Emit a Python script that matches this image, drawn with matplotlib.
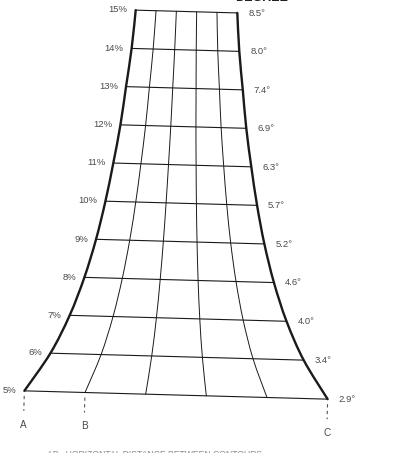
import numpy as np
import matplotlib
matplotlib.use("Agg")
import matplotlib.pyplot as plt
from matplotlib.transforms import Affine2D
from matplotlib.path import Path
from matplotlib.patches import PathPatch

# ---- data -------------------------------------------------------------
slope_pct = [5, 6, 7, 8, 9, 10, 11, 12, 13, 14, 15]
pct_labels = ["5%", "6%", "7%", "8%", "9%", "10%", "11%", "12%", "13%", "14%", "15%"]
deg_labels = ["2.9°", "3.4°", "4.0°", "4.6°", "5.2°", "5.7°",
              "6.3°", "6.9°", "7.4°", "8.0°", "8.5°"]
# horizontal run for one unit of rise (read as widths of the rows)
run_per_rise = [20.0, 16.7, 14.3, 12.5, 11.1, 10.0, 9.1, 8.3, 7.7, 7.1, 6.7]
point_labels = ["A", "B", "C"]
n_div = 5

# ---- layout / style ---------------------------------------------------
px_per_run = 15.17
row_gap = 38.36
tilt_deg = -1.57
origin = (176.0, 58.0)
line_col = "#1a1a1a"
text_col = "#4a4a4a"
font = "Liberation Sans"

fig = plt.figure(figsize=(4.0, 4.53), dpi=100)
ax = fig.add_axes([0, 0, 1, 1])
ax.set_xlim(0, 400)
ax.set_ylim(0, 453)
ax.axis("off")
tr = Affine2D().rotate_deg(tilt_deg).translate(*origin) + ax.transData


def smooth_path(xs, ys):
    """Bezier path through the given points (Catmull-Rom tangents)."""
    p = np.column_stack([xs, ys]).astype(float)
    verts = [p[0]]
    codes = [Path.MOVETO]
    n = len(p)
    for i in range(n - 1):
        p0 = p[i - 1] if i > 0 else p[i]
        p1, p2 = p[i], p[i + 1]
        p3 = p[i + 2] if i + 2 < n else p[i + 1]
        c1 = p1 + (p2 - p0) / 6.0
        c2 = p2 - (p3 - p1) / 6.0
        verts += [c1, c2, p2]
        codes += [Path.CURVE4] * 3
    return Path(verts, codes)


def draw_curve(xs, ys, lw):
    ax.add_patch(PathPatch(smooth_path(xs, ys), fill=False, edgecolor=line_col,
                           lw=lw, transform=tr, capstyle="round",
                           joinstyle="round"))


half = np.array(run_per_rise) * px_per_run / 2.0
v = (np.array(slope_pct) - slope_pct[0]) * row_gap

# horizontal rows
for i in range(len(slope_pct)):
    ax.plot([-half[i], half[i]], [v[i], v[i]], color=line_col, lw=0.8,
            transform=tr, solid_capstyle="butt")
# interior division lines
for k in range(1, n_div):
    u = -half + 2 * half * k / n_div
    draw_curve(u, v, 0.7)
# boundaries
draw_curve(-half, v, 1.7)
draw_curve(half, v, 1.7)

# labels
for i in range(len(slope_pct)):
    ax.text(-half[i] - 8, v[i], pct_labels[i], ha="right", va="center",
            fontsize=6.8, color=text_col, family=font, transform=tr)
    ax.text(half[i] + 11, v[i], deg_labels[i], ha="left", va="center",
            fontsize=6.8, color=text_col, family=font, transform=tr)

# A, B, C markers
marks_u = [-half[0], -half[0] + 2 * half[0] / n_div, half[0]]
for u, lab in zip(marks_u, point_labels):
    ax.plot([u, u], [-5, -20], color="#555555", lw=0.8, ls=(0, (3, 3)),
            transform=tr)
    ax.text(u, -34, lab, ha="center", va="center", fontsize=7.2,
            color=text_col, family=font, transform=tr)

# cut-off titles at top and caption at bottom (cropped as in the scan)
ax.text(262, 449, "DEGREE", ha="center", va="bottom", fontsize=9,
        fontweight="bold", color="#222222", family=font)
ax.text(137, 450, "PERCENTAGE", ha="right", va="bottom", fontsize=9,
        fontweight="bold", color="#222222", family=font)
ax.text(47, 3, "AB   HORIZONTAL DISTANCE BETWEEN CONTOURS", ha="left",
        va="top", fontsize=6.2, color="#8a8a8a", family=font)

fig.savefig("out.png", dpi=100)
